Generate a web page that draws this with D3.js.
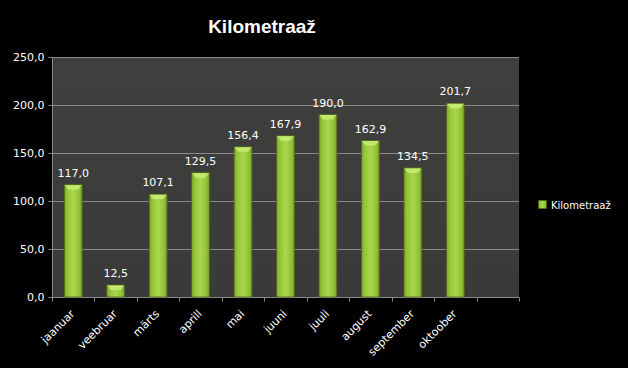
<!DOCTYPE html>
<html><head><meta charset="utf-8">
<script src="https://cdn.jsdelivr.net/npm/d3@7"></script>
<style>body{margin:0;background:#000}svg{display:block}</style>
</head><body>
<script>
const categories = ["jaanuar","veebruar","märts","aprill","mai","juuni","juuli","august","september","oktoober",""];
const values = [117.0,12.5,107.1,129.5,156.4,167.9,190.0,162.9,134.5,201.7,null];
const yTicks = [0,50,100,150,200,250];
const seriesName = "Kilometraaž";
const title = "Kilometraaž";

const W=628,H=368;
const svg=d3.select("body").append("svg").attr("width",W).attr("height",H).style("background","#000");
const m={l:52,t:57,r:519,b:297};
const font="'DejaVu Sans', Verdana, sans-serif";
const defs=svg.append("defs");
const g1=defs.append("linearGradient").attr("id","bar").attr("x1","0").attr("x2","1").attr("y1","0").attr("y2","0");
[[0,"#7ea22a"],[0.15,"#94c237"],[0.5,"#a9d84c"],[0.85,"#92bf35"],[1,"#73962a"]].forEach(d=>g1.append("stop").attr("offset",d[0]).attr("stop-color",d[1]));
const g2=defs.append("linearGradient").attr("id","bg").attr("x1","0").attr("x2","0").attr("y1","0").attr("y2","1");
g2.append("stop").attr("offset",0).attr("stop-color","#3f403d");
g2.append("stop").attr("offset",1).attr("stop-color","#3a3b38");

const x=d3.scaleBand().domain(categories.map((c,i)=>i)).range([m.l,m.r]).paddingInner(0).paddingOuter(0);
const y=d3.scaleLinear().domain([0,250]).range([m.b,m.t]);

svg.append("rect").attr("x",m.l).attr("y",m.t).attr("width",m.r-m.l).attr("height",m.b-m.t).attr("fill","url(#bg)");
// gridlines
svg.append("g").selectAll("line").data(yTicks.filter(v=>v>0)).join("line")
 .attr("x1",m.l).attr("x2",m.r).attr("y1",d=>y(d)+0.5).attr("y2",d=>y(d)+0.5).attr("stroke","#8a8a8a").attr("stroke-width",1);
// y axis
const ya=svg.append("g").attr("transform",`translate(${m.l+0.5},0)`).call(d3.axisLeft(y).tickValues(yTicks).tickSize(4).tickPadding(4).tickFormat(d=>d3.format(".1f")(d).replace(".",",")));
ya.select(".domain").attr("stroke","#8a8a8a").attr("d",`M-4,${m.t+0.5}H0V${m.b+0.5}H-4`);
ya.selectAll(".tick line").attr("stroke","#8a8a8a");
ya.selectAll("text").attr("fill","#fff").style("font-family",font).style("font-size","11px");
// x axis
const xa=svg.append("g").attr("transform",`translate(0,${m.b+0.5})`);
xa.append("line").attr("x1",m.l).attr("x2",m.r).attr("stroke","#8a8a8a");
xa.selectAll("line.t").data(d3.range(categories.length+1)).join("line").attr("class","t")
 .attr("x1",i=>Math.round(m.l+i*x.bandwidth())+0.5).attr("x2",i=>Math.round(m.l+i*x.bandwidth())+0.5).attr("y1",0).attr("y2",4).attr("stroke","#8a8a8a");
xa.selectAll("text").data(categories).join("text")
 .attr("transform",(d,i)=>`translate(${x(i)+x.bandwidth()/2+2},${17}) rotate(-45)`)
 .attr("text-anchor","end").attr("fill","#fff").style("font-family",font).style("font-size","11px").text(d=>d);
// bars
const bw=x.bandwidth()*0.42;
const data=values.map((v,i)=>({v,i})).filter(d=>d.v!=null);
const bars=svg.append("g").selectAll("g").data(data).join("g");
bars.append("rect").attr("x",d=>x(d.i)+(x.bandwidth()-bw)/2).attr("width",bw).attr("y",d=>y(d.v)).attr("height",d=>y(0)-y(d.v))
 .attr("fill","url(#bar)").attr("stroke","#4f6618").attr("stroke-width",0.8);
bars.append("path").attr("d",d=>{const x0=x(d.i)+(x.bandwidth()-bw)/2,t=y(d.v);return `M${x0+0.5},${t+0.5}H${x0+bw-0.5}L${x0+bw-4},${t+5}H${x0+4}Z`;}).attr("fill","#c9ec78").attr("opacity",0.85);
bars.append("text").attr("x",d=>x(d.i)+x.bandwidth()/2).attr("y",d=>y(d.v)-8).attr("text-anchor","middle")
 .attr("fill","#fff").style("font-family",font).style("font-size","11px").text(d=>d3.format(".1f")(d.v).replace(".",","));
// title
svg.append("text").attr("x",262).attr("y",33).attr("text-anchor","middle").attr("fill","#fff").style("font-family","'Liberation Sans', Arial, sans-serif").style("font-size","19px").style("font-weight","bold").text(title);
// legend
svg.append("rect").attr("x",538.5).attr("y",200.5).attr("width",8).attr("height",8).attr("fill","url(#bar)").attr("stroke","#4f6618");
svg.append("text").attr("x",551).attr("y",208.5).attr("fill","#fff").style("font-family",font).style("font-size","10px").text(seriesName);
</script>
</body></html>
